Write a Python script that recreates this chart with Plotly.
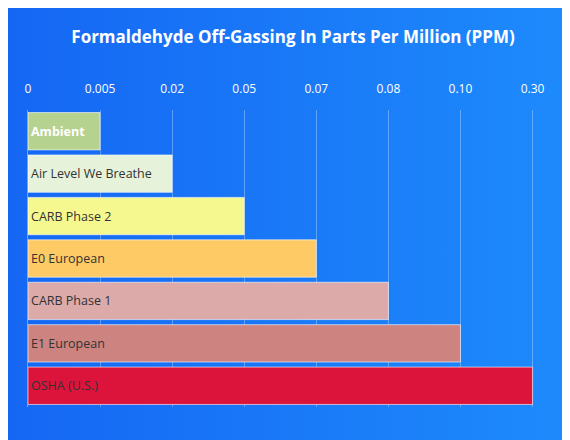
import base64
import plotly.graph_objects as go

categories = ["Ambient", "Air Level We Breathe", "CARB Phase 2", "E0 European",
              "CARB Phase 1", "E1 European", "OSHA (U.S.)"]
values = [0.005, 0.02, 0.05, 0.07, 0.08, 0.10, 0.30]
tick_labels = ["0", "0.005", "0.02", "0.05", "0.07", "0.08", "0.10", "0.30"]
colors = ["#b6d28f", "#e6f2da", "#f5f88e", "#fdca66", "#dcaaa8", "#cd8380", "#dc143c"]
text_colors = ["white", "#333", "#333", "#333", "#333", "#333", "#333"]

# the axis is evenly spaced by tick, not by value
tick_values = [float(t) for t in tick_labels]
positions = [tick_values.index(v) for v in values]

svg = ('<svg xmlns="http://www.w3.org/2000/svg" width="600" height="500" preserveAspectRatio="none">'
       '<defs><linearGradient id="g" x1="0" y1="0" x2="1" y2="0">'
       '<stop offset="0" stop-color="#1462f2"/><stop offset="1" stop-color="#1f92fe"/>'
       '</linearGradient></defs><rect width="600" height="500" fill="url(#g)"/></svg>')
bg = "data:image/svg+xml;base64," + base64.b64encode(svg.encode()).decode()

fig = go.Figure()
fig.add_trace(go.Bar(
    x=positions, y=categories, orientation="h",
    marker=dict(color=colors, line=dict(color="rgba(255,255,255,0.6)", width=1)),
    text=categories, textposition="inside", insidetextanchor="start",
    textfont=dict(color=text_colors, size=12.5, family="Open Sans"),
    hoverinfo="skip",
))
fig.data[0].texttemplate = ["<b>%{text}</b>"] + ["%{text}"] * 6

fig.update_layout(
    width=570, height=440,
    margin=dict(l=20, r=44, t=102, b=41),
    paper_bgcolor="#1a7af8", plot_bgcolor="rgba(0,0,0,0)",
    title=dict(text="<b>Formaldehyde Off-Gassing In Parts Per Million (PPM)</b>",
               x=0.5, y=0.948, xanchor="center",
               font=dict(color="white", size=17, family="Open Sans")),
    font=dict(family="Open Sans"),
    bargap=0.12, showlegend=False,
    images=[dict(source=bg, xref="paper", yref="paper", x=-0.2, y=1.6,
                 sizex=1.5, sizey=2.2, sizing="stretch", layer="below")],
)
fig.update_xaxes(side="top", range=[0, 7.02], tickvals=list(range(8)), ticktext=tick_labels,
                 tickfont=dict(color="white", size=12), showgrid=True,
                 gridcolor="rgba(255,255,255,0.3)", zeroline=False, ticks="", ticklen=0,
                 ticklabelstandoff=14)
fig.update_yaxes(autorange="reversed", showticklabels=False, showgrid=False,
                 showline=True, linecolor="rgba(255,255,255,0.4)")
fig.write_html("out.html")
